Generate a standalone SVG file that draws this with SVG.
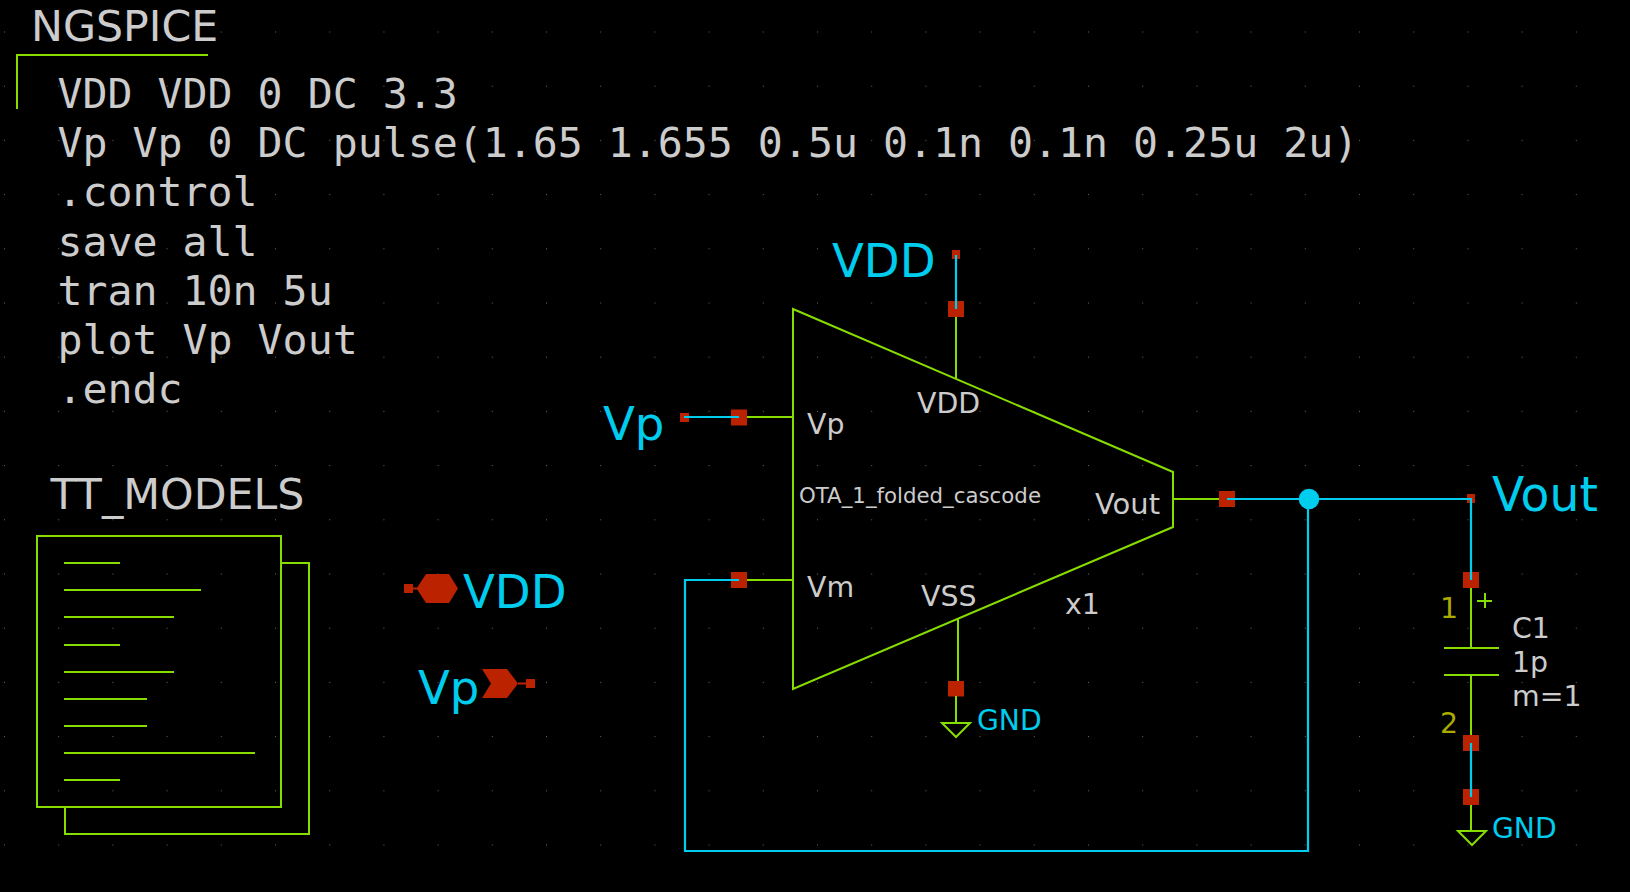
<svg xmlns="http://www.w3.org/2000/svg" width="1630" height="892" viewBox="0 0 1630 892">
<style>
text{font-family:"DejaVu Sans",sans-serif;fill:#cccccc;font-size:28.4px}
.mono{font-family:"DejaVu Sans Mono",monospace;font-size:41.55px}
.big{font-size:42.7px}
.net{fill:#00ccee;font-size:46.6px}
.gnd{fill:#00ccee;font-size:28.2px}
.pin{fill:#aaaa00}
.small{font-size:21.3px}
.g{fill:none;stroke:#88dd00;stroke-width:2}
.w{fill:none;stroke:#00ccee;stroke-width:2.2}
.r{fill:#bb2200;stroke:none}
</style>
<defs>
<pattern id="dots" x="4" y="31.5" width="54.2" height="54.2" patternUnits="userSpaceOnUse"><rect width="1" height="1" fill="#666666"/></pattern>
</defs>
<rect width="1630" height="892" fill="#000000"/>
<rect width="1630" height="860" fill="url(#dots)"/>
<g id="ngspice">
<text class="big" x="31" y="41">NGSPICE</text>
<path class="g" d="M17 109V55H208"/>
<text class="mono" x="57.5" y="108.4">VDD VDD 0 DC 3.3</text>
<text class="mono" x="57.5" y="157">Vp Vp 0 DC pulse(1.65 1.655 0.5u 0.1n 0.1n 0.25u 2u)</text>
<text class="mono" x="57.5" y="206.3">.control</text>
<text class="mono" x="57.5" y="255.5">save all</text>
<text class="mono" x="57.5" y="305">tran 10n 5u</text>
<text class="mono" x="57.5" y="354">plot Vp Vout</text>
<text class="mono" x="57.5" y="403">.endc</text>
</g>
<g id="tt_models">
<text class="big" x="50.5" y="509">TT_MODELS</text>
<path class="g" d="M37 536H281V807H37Z"/>
<path class="g" d="M281 563H309V834H65V807"/>
<path class="g" d="M64 563H120M64 590H201M64 617H174M64 645H120M64 672H174M64 699H147M64 726H147M64 753H255M64 780H120"/>
</g>
<g id="port_vdd">
<rect class="r" x="404" y="584" width="9" height="9"/>
<path class="r" d="M416.5 588.5L426 574H449L458 588.5L449 603H426Z"/>
<path d="M408 588.5H418" stroke="#bb2200" stroke-width="2"/>
<text class="net" x="463" y="607.5">VDD</text>
</g>
<g id="port_vp">
<text class="net" x="418" y="703.5">Vp</text>
<path class="r" d="M482 669H507L518 683.5L507 698H482L491 683.5Z"/>
<path d="M518 683.5H530" stroke="#bb2200" stroke-width="2"/>
<rect class="r" x="526" y="679" width="9" height="9"/>
</g>
<g id="x1">
<path class="g" d="M793 309L1173 472V527L793 689Z"/>
<path class="g" d="M956 317V379M747 417H793M747 580H793M958 618V681M1173 499H1219"/>
<text x="807" y="434">Vp</text>
<text x="917" y="413">VDD</text>
<text class="small" x="799" y="503">OTA_1_folded_cascode</text>
<text x="1095" y="514" style="font-size:29px">Vout</text>
<text x="807" y="597">Vm</text>
<text x="921" y="606">VSS</text>
<text x="1065" y="614">x1</text>
<rect class="r" x="948" y="301" width="16" height="16"/>
<rect class="r" x="731" y="409.5" width="16" height="16"/>
<rect class="r" x="731" y="572" width="16" height="16"/>
<rect class="r" x="948" y="681" width="16" height="15.5"/>
<rect class="r" x="1219" y="491" width="16" height="16"/>
</g>
<g id="gnd1">
<path class="g" d="M956 696V723M942 723H970L956 737Z"/>
<text class="gnd" x="977" y="730">GND</text>
</g>
<g id="c1">
<path class="g" d="M1471 588V648M1444 648H1499M1444 675H1499M1471 675V735"/>
<path class="g" d="M1477 601H1492M1485 593V608"/>
<rect class="r" x="1463" y="572" width="16" height="16"/>
<rect class="r" x="1463" y="735" width="16" height="16"/>
<text class="pin" x="1440" y="618">1</text>
<text class="pin" x="1440" y="733">2</text>
<text x="1512" y="638">C1</text>
<text x="1512" y="672">1p</text>
<text x="1512" y="706">m=1</text>
</g>
<g id="gnd2">
<rect class="r" x="1463" y="789" width="16" height="16"/>
<path class="g" d="M1471 805V831M1458 831H1486L1472 845Z"/>
<text class="gnd" x="1492" y="838">GND</text>
</g>
<g id="lab_vdd">
<rect class="r" x="952" y="250" width="8" height="9"/>
<text class="net" x="832" y="277">VDD</text>
</g>
<g id="lab_vp">
<rect class="r" x="680" y="413" width="9" height="9"/>
<text class="net" x="603" y="439.5">Vp</text>
</g>
<g id="lab_vout">
<rect class="r" x="1467" y="494" width="8" height="9"/>
<text class="net" x="1492" y="510.5" style="font-size:47.2px">Vout</text>
</g>
<g id="connectors">
<path class="w" d="M956 255V309"/>
<path class="w" d="M684 417H739"/>
<path class="w" d="M739 580H685V851H1308V499"/>
<path class="w" d="M1227 499H1471V580"/>
<path class="w" d="M1471 743V797"/>
<circle cx="1309" cy="499" r="10.3" fill="#00ccee"/>
</g>
</svg>
